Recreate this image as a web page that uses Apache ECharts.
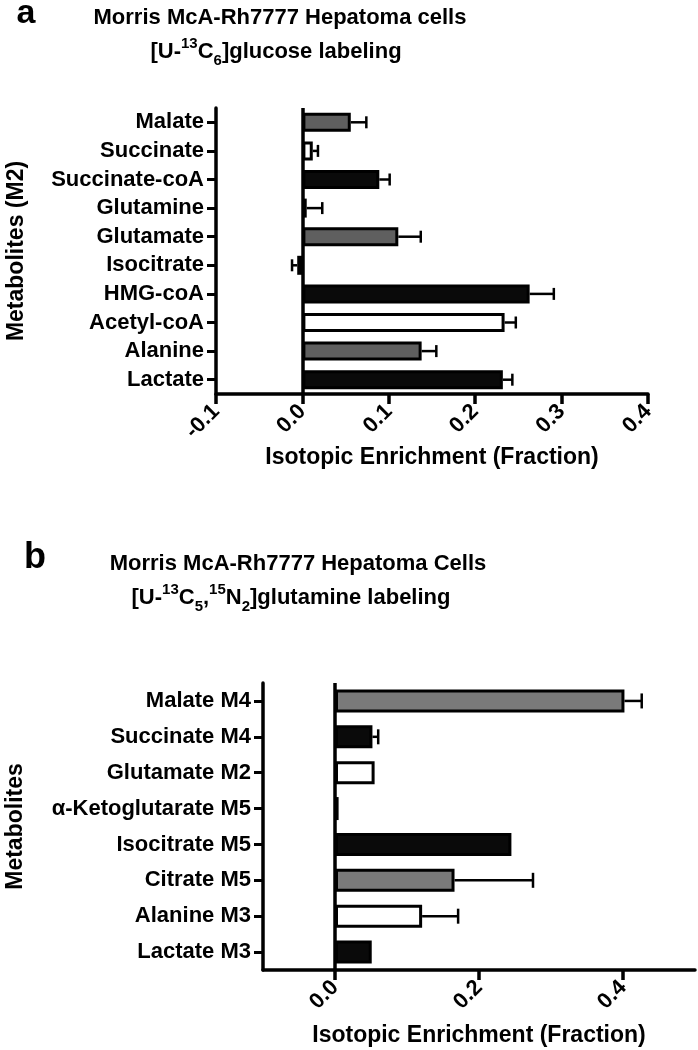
<!DOCTYPE html>
<html><head><meta charset="utf-8">
<script src="https://cdn.jsdelivr.net/npm/echarts@6/dist/echarts.min.js"></script>
<style>html,body{margin:0;padding:0;background:#fff}#c{width:698px;height:1050px}</style>
</head><body><div id="c"></div>
<script>
// ---- data ----
const catsA = ['Malate','Succinate','Succinate-coA','Glutamine','Glutamate','Isocitrate','HMG-coA','Acetyl-coA','Alanine','Lactate'];
const valsA = [0.056,0.012,0.089,0.005,0.111,-0.006,0.263,0.234,0.138,0.232];
const errA  = [0.018,0.006,0.012,0.018,0.026,0.006,0.028,0.013,0.017,0.011];
const ticksA = [-0.1,0,0.1,0.2,0.3,0.4];
const catsB = ['Malate M4','Succinate M4','Glutamate M2','α-Ketoglutarate M5','Isocitrate M5','Citrate M5','Alanine M3','Lactate M3'];
const valsB = [0.402,0.052,0.055,0.005,0.245,0.166,0.121,0.051];
const errB  = [0.024,0.008,0,0,0,0.109,0.050,0];
const ticksB = [0,0.2,0.4];
// ---- styles ----
const fillA = ['#5f5f5f','#ffffff','#0a0a0a','#0a0a0a','#5f5f5f','#ffffff','#0a0a0a','#ffffff','#5f5f5f','#0a0a0a'];
const fillB = ['#7a7a7a','#0a0a0a','#ffffff','#0a0a0a','#0a0a0a','#7a7a7a','#ffffff','#0a0a0a'];
const FF = '"Liberation Sans", Arial, sans-serif';

const chart = echarts.init(document.getElementById('c'), null, {renderer:'canvas'});

function errData(vals, errs){
  const out = [];
  vals.forEach((v,i)=>{ if(errs[i]>0) out.push([v, v + (v<0?-1:1)*errs[i], i]); });
  return out;
}
function errSeries(xi, vals, errs, cap){
  return {
    type:'custom', xAxisIndex:xi, yAxisIndex:xi, z:1,
    data: errData(vals, errs),
    encode:{x:[0,1], y:2},
    renderItem:function(params, api){
      const p0 = api.coord([api.value(0), api.value(2)]);
      const p1 = api.coord([api.value(1), api.value(2)]);
      const st = {stroke:'#000', lineWidth:2.5};
      return {type:'group', children:[
        {type:'line', shape:{x1:p0[0], y1:p0[1], x2:p1[0], y2:p1[1]}, style:st},
        {type:'line', shape:{x1:p1[0], y1:p1[1]-cap, x2:p1[0], y2:p1[1]+cap}, style:st}
      ]};
    }
  };
}
function barSeries(xi, vals, fills, bw){
  return {
    type:'bar', xAxisIndex:xi, yAxisIndex:xi, z:2, barWidth:bw,
    data: vals.map((v,i)=>({value:v, itemStyle:{color:fills[i]}})),
    itemStyle:{borderColor:'#000', borderWidth:3},
    markLine:{silent:true, symbol:'none', label:{show:false},
      lineStyle:{color:'#000', width:3.5, type:'solid'}, data:[{xAxis:0}]}
  };
}
function xAx(gi, min, max, ticks, gap){
  return {
    gridIndex:gi, type:'value', min:min, max:max,
    axisLine:{show:true, onZero:false, lineStyle:{color:'#000', width:3.5}},
    axisTick:{show:true, length:10, lineStyle:{color:'#000', width:3.5}, customValues:ticks},
    splitLine:{show:false},
    axisLabel:{customValues:ticks, rotate:45, color:'#000', fontSize:22, fontWeight:'bold', fontFamily:FF, margin:14,
      formatter:v=>Number(v).toFixed(1)},
    name:'Isotopic Enrichment (Fraction)', nameLocation:'middle', nameGap:gap,
    nameTextStyle:{color:'#000', fontSize:23, fontWeight:'bold', fontFamily:FF}
  };
}
function yAx(gi, cats, name, gap){
  return {
    gridIndex:gi, type:'category', data:cats, inverse:true,
    axisLine:{show:true, onZero:false, lineStyle:{color:'#000', width:3.5}},
    axisTick:{show:true, interval:0, alignWithLabel:true, length:9, lineStyle:{color:'#000', width:3}},
    axisLabel:{interval:0, color:'#000', fontSize:22, fontWeight:'bold', fontFamily:FF, margin:12},
    splitLine:{show:false},
    name:name, nameLocation:'middle', nameRotate:90, nameGap:gap,
    nameTextStyle:{color:'#000', fontSize:23, fontWeight:'bold', fontFamily:FF}
  };
}
const richT = {
  n:{fontSize:22, fontWeight:'bold', fontFamily:FF, color:'#000', lineHeight:32},
  sup:{fontSize:15, fontWeight:'bold', fontFamily:FF, color:'#000', lineHeight:15, verticalAlign:'top'},
  sub:{fontSize:15, fontWeight:'bold', fontFamily:FF, color:'#000', lineHeight:15, verticalAlign:'bottom'}
};
function tText(x, y, text, size){
  return {type:'text', x:x, y:y, style:{text:text, fill:'#000', font:'bold '+(size||22)+'px '+FF, textAlign:'center', textVerticalAlign:'middle'}};
}
function tRich(x, y, text){
  return {type:'text', x:x, y:y, style:{text:text, rich:richT, textAlign:'center', textVerticalAlign:'middle'}};
}

chart.setOption({
  animation:false,
  backgroundColor:'#fff',
  grid:[
    {left:216, top:108, width:432, height:286, containLabel:false, outerBoundsMode:'none'},
    {left:263, top:683, width:432, height:287, containLabel:false, outerBoundsMode:'none'}
  ],
  xAxis:[ xAx(0, -0.1, 0.4, ticksA, 52), xAx(1, -0.1, 0.5, ticksB, 54) ],
  yAxis:[ yAx(0, catsA, 'Metabolites (M2)', 188), yAx(1, catsB, 'Metabolites', 236) ],
  series:[
    barSeries(0, valsA, fillA, 19),
    errSeries(0, valsA, errA, 6),
    barSeries(1, valsB, fillB, 23),
    errSeries(1, valsB, errB, 7.5)
  ],
  graphic:[
    tText(26, 14, 'a', 34),
    tText(280, 18, 'Morris McA-Rh7777 Hepatoma cells'),
    tRich(276, 52, '{n|[U-}{sup|13}{n|C}{sub|6}{n|]glucose labeling}'),
    tText(35, 558, 'b', 36),
    tText(298, 564, 'Morris McA-Rh7777 Hepatoma Cells'),
    tRich(291, 598, '{n|[U-}{sup|13}{n|C}{sub|5}{n|,}{sup|15}{n|N}{sub|2}{n|]glutamine labeling}')
  ]
});
</script></body></html>
